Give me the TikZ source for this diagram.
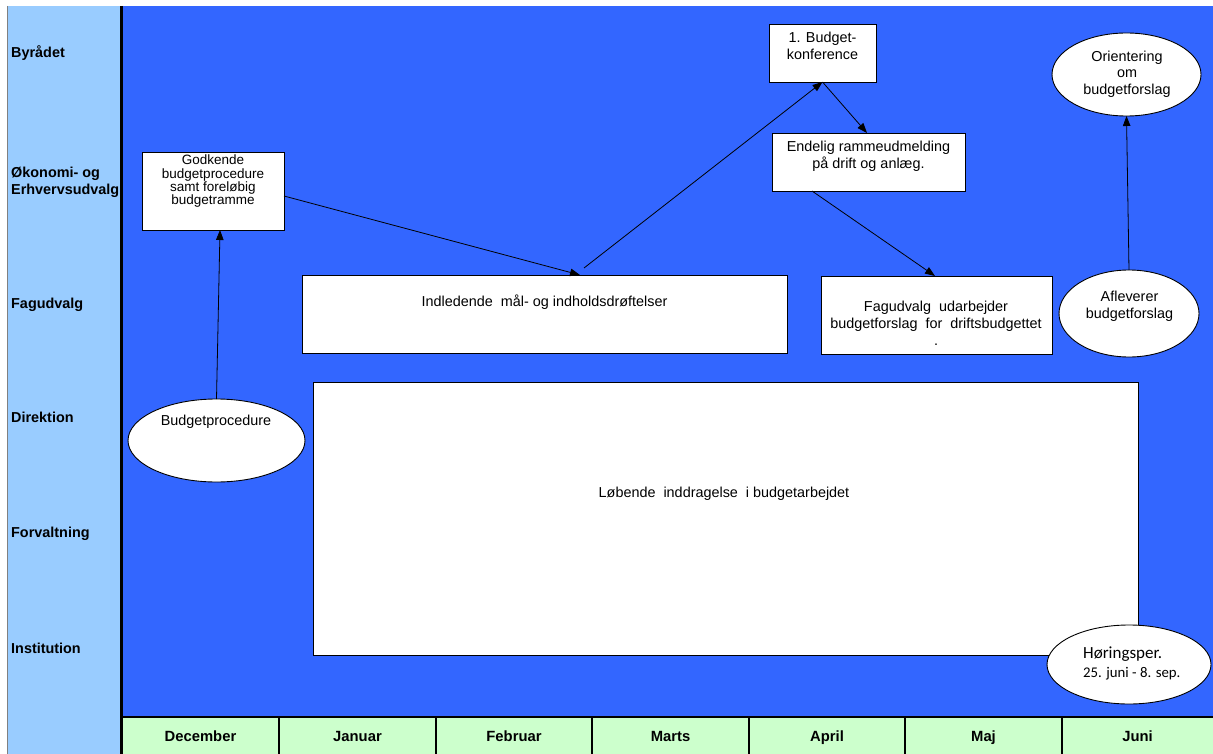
\documentclass[tikz,border=0pt]{standalone}
\usepackage{fontspec}
\setmainfont{Liberation Sans}
\newfontfamily\calib{Carlito}
\usetikzlibrary{shapes.geometric,arrows.meta,calc}
\definecolor{laneblue}{HTML}{99CCFF}
\definecolor{mainblue}{HTML}{3366FF}
\definecolor{monthgreen}{HTML}{CCFFCC}
\begin{document}
\begin{tikzpicture}[x=1pt,y=-1pt,
  lane/.style={font=\bfseries\fontsize{14.4}{17}\selectfont, inner sep=0, align=left},
  month/.style={font=\bfseries\fontsize{14.8}{16}\selectfont, anchor=base, inner sep=0},
  wbox/.style={draw=black, fill=white, line width=0.9pt, inner sep=0, outer sep=0},
  oval/.style={ellipse, draw=black, fill=white, line width=0.9pt, inner sep=0, outer sep=0},
  txt/.style={font=\fontsize{14.4}{16.5}\selectfont, align=center, inner sep=0},
  arr/.style={-{Triangle[length=10pt,width=7.5pt]}, line width=0.8pt}
]
\useasboundingbox (0,0) rectangle (1213,754);
\fill[white] (0,0) rectangle (1213,754);
% lanes column
\fill[laneblue] (8,6) rectangle (120,754);
\draw[gray, line width=1.5pt] (7.5,6) -- (7.5,754);
% main area
\fill[mainblue] (122,6) rectangle (1213,717);
\fill[monthgreen] (122,717) rectangle (1213,754);
\draw[black, line width=3pt] (121.5,6) -- (121.5,754);
\draw[black, line width=2pt] (121.5,717) -- (1213,717);
\foreach \xx in {279,436,592,749,905,1062}
  \draw[black, line width=2.5pt] (\xx,717) -- (\xx,754);

% lane labels
\node[lane, anchor=base west] (l1) at (11,58) {Byrådet};
\node[lane, anchor=north west] (l2) at (11,166.5) {Økonomi- og\\Erhvervsudvalg};
\node[lane, anchor=base west] (l3) at (11,308) {Fagudvalg};
\node[lane, anchor=base west] (l4) at (11,422) {Direktion};
\node[lane, anchor=base west] (l5) at (11,537) {Forvaltning};
\node[lane, anchor=base west] (l6) at (11,653) {Institution};

% months
\node[month] (m1) at (200.5,741) {December};
\node[month] (m2) at (357.5,741) {Januar};
\node[month] (m3) at (514,741) {Februar};
\node[month] (m4) at (670.5,741) {Marts};
\node[month] (m5) at (827,741) {April};
\node[month] (m6) at (983.5,741) {Maj};
\node[month] (m7) at (1137.5,741) {Juni};

% boxes
\node[wbox, minimum width=142, minimum height=78] (gk) at (213,191) {};
\node[txt, font=\fontsize{13.5}{13.2}\selectfont, anchor=north] (gkt) at (213,155) {Godkende\\budgetprocedure\\samt foreløbig\\budgetramme};

\node[wbox, minimum width=107, minimum height=58] (bk) at (822.5,53) {};
\node[txt, anchor=north] (bkt) at (822.5,32) {1. Budget-\\konference};

\node[wbox, minimum width=193, minimum height=58] (er) at (868.5,162) {};
\node[txt, font=\fontsize{14.4}{17}\selectfont, anchor=north] (ert) at (868.5,141) {Endelig rammeudmelding\\på drift og anlæg.};

\node[wbox, minimum width=485, minimum height=78] (ind) at (544.5,314) {};
\node[txt, anchor=base] (indt) at (544.5,306) {Indledende\ \ mål- og indholdsdrøftelser};

\node[wbox, minimum width=231, minimum height=78] (fag) at (936.5,315) {};
\node[txt, font=\fontsize{14.4}{17}\selectfont, anchor=north] (fagt) at (936,301) {Fagudvalg\ \ udarbejder\\budgetforslag\ \ for\ \ driftsbudgettet\\.};

\node[wbox, minimum width=825, minimum height=273] (lob) at (725.5,518.5) {};
\node[txt, anchor=base] (lobt) at (724,497) {Løbende\ \ inddragelse\ \ i budgetarbejdet};

% ellipses
\node[oval, minimum width=177, minimum height=83] (bp) at (216.5,440.5) {};
\node[txt, anchor=base] (bpt) at (216,425) {Budgetprocedure};

\node[oval, minimum width=149, minimum height=83] (or) at (1126.5,74.5) {};
\node[txt, anchor=north] (ort) at (1127,50.5) {Orientering\\om\\budgetforslag};

\node[oval, minimum width=140, minimum height=87] (af) at (1129,313.5) {};
\node[txt, anchor=north] (aft) at (1129.5,291) {Afleverer\\budgetforslag};

\node[oval, minimum width=164, minimum height=79] (hr) at (1129,664.5) {};
\node[inner sep=0, anchor=base west, font=\calib\fontsize{17}{19}\selectfont] (hr1) at (1083,658) {Høringsper.};
\node[inner sep=0, anchor=base west, font=\calib\fontsize{14.8}{17}\selectfont] (hr2) at (1083,677) {25. juni - 8. sep.};

% connectors
\draw[arr] (bp.north) -- ([xshift=7pt]gk.south);
\draw[arr] ([yshift=-5pt]gk.east) -- ([xshift=35.5pt]ind.north);
\draw[arr] ([xshift=39.5pt,yshift=7pt]ind.north) -- (bk.south);
\draw[arr] (bk.south) -- ([xshift=-1.5pt]er.north);
\draw[arr] ([xshift=-56.5pt]er.south) -- ([xshift=-1.5pt]fag.north);
\draw[arr] (af.north) -- (or.south);
\end{tikzpicture}
\end{document}
